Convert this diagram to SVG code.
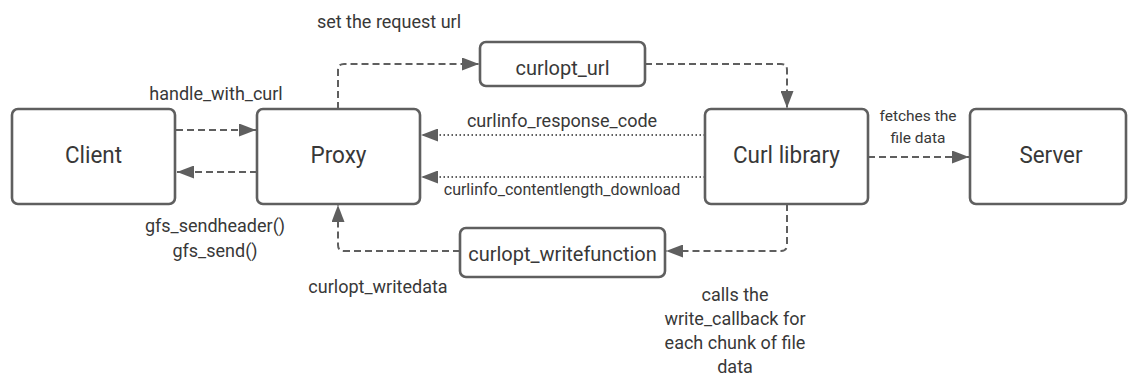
<svg xmlns="http://www.w3.org/2000/svg" width="1128" height="376" viewBox="0 0 1128 376">
  <style>
    .box { fill: #ffffff; stroke: #5f5f5f; stroke-width: 2.6; }
    .node-text { font-family: Roboto, "Liberation Sans", sans-serif; font-size: 24px; fill: #383838; text-anchor: middle; }
    .opt-text { font-family: Roboto, "Liberation Sans", sans-serif; font-size: 20px; fill: #383838; text-anchor: middle; }
    .label { font-family: Roboto, "Liberation Sans", sans-serif; font-size: 18px; fill: #383838; text-anchor: middle; }
    .small { font-family: Roboto, "Liberation Sans", sans-serif; font-size: 16px; fill: #383838; text-anchor: middle; }
    .tiny { font-family: Roboto, "Liberation Sans", sans-serif; font-size: 15.5px; fill: #383838; text-anchor: middle; }
    .dashed { fill: none; stroke: #5f5f5f; stroke-width: 2; stroke-dasharray: 7 4; }
    .dotted { fill: none; stroke: #5f5f5f; stroke-width: 2; stroke-dasharray: 1.5 2.5; }
  </style>
  <defs>
    <marker id="arrow" viewBox="0 0 17 13" refX="17" refY="6.5" markerWidth="17" markerHeight="13" markerUnits="userSpaceOnUse" orient="auto">
      <path d="M0,0 L17,6.5 L0,13 Z" fill="#5f5f5f"/>
    </marker>
  </defs>

  <rect width="1128" height="376" fill="#ffffff"/>

  <!-- connectors and their labels -->
  <g id="connectors">
    <path class="dashed" d="M176,130 H256" marker-end="url(#arrow)"/>
    <path class="dashed" d="M257,172 H177" marker-end="url(#arrow)"/>
    <path class="dashed" d="M338,109 V70 Q338,64 344,64 H479" marker-end="url(#arrow)"/>
    <path class="dashed" d="M645,64 H781 Q787,64 787,70 V108" marker-end="url(#arrow)"/>
    <path class="dotted" d="M705,135 H421" marker-end="url(#arrow)"/>
    <path class="dotted" d="M705,177 H421" marker-end="url(#arrow)"/>
    <path class="dashed" d="M787,204 V245 Q787,251 781,251 H666" marker-end="url(#arrow)"/>
    <path class="dashed" d="M460,251 H344 Q338,251 338,245 V205" marker-end="url(#arrow)"/>
    <path class="dashed" d="M868,157 H969" marker-end="url(#arrow)"/>

    <text class="label" x="389" y="28">set the request url</text>
    <text class="label" x="216" y="100">handle_with_curl</text>
    <text class="label" x="562" y="127">curlinfo_response_code</text>
    <text class="small" x="562" y="195">curlinfo_contentlength_download</text>
    <text class="tiny" x="918" y="121">fetches the</text>
    <text class="tiny" x="918" y="143">file data</text>
    <text class="label" x="215" y="232">gfs_sendheader()</text>
    <text class="label" x="215" y="257">gfs_send()</text>
    <text class="label" x="378" y="293">curlopt_writedata</text>
    <text class="label" x="735" y="301">calls the</text>
    <text class="label" x="735" y="325">write_callback for</text>
    <text class="label" x="735" y="349">each chunk of file</text>
    <text class="label" x="735" y="373">data</text>
  </g>

  <g id="client">
    <rect class="box" x="12" y="109" width="163" height="95" rx="6"/>
    <text class="node-text" x="93.5" y="163" textLength="57" lengthAdjust="spacingAndGlyphs">Client</text>
  </g>
  <g id="proxy">
    <rect class="box" x="257" y="109" width="163" height="95" rx="6"/>
    <text class="node-text" x="338.5" y="163" textLength="56" lengthAdjust="spacingAndGlyphs">Proxy</text>
  </g>
  <g id="curl-library">
    <rect class="box" x="705" y="109" width="163" height="95" rx="6"/>
    <text class="node-text" x="786.5" y="163" textLength="107" lengthAdjust="spacingAndGlyphs">Curl library</text>
  </g>
  <g id="server">
    <rect class="box" x="970" y="109" width="156" height="95" rx="6"/>
    <text class="node-text" x="1051" y="163" textLength="63" lengthAdjust="spacingAndGlyphs">Server</text>
  </g>
  <g id="curlopt-url">
    <rect class="box" x="480" y="42" width="165" height="44" rx="6"/>
    <text class="opt-text" x="562.5" y="75">curlopt_url</text>
  </g>
  <g id="curlopt-writefunction">
    <rect class="box" x="460" y="228" width="205" height="49" rx="6"/>
    <text class="opt-text" x="562.5" y="261">curlopt_writefunction</text>
  </g>
</svg>
